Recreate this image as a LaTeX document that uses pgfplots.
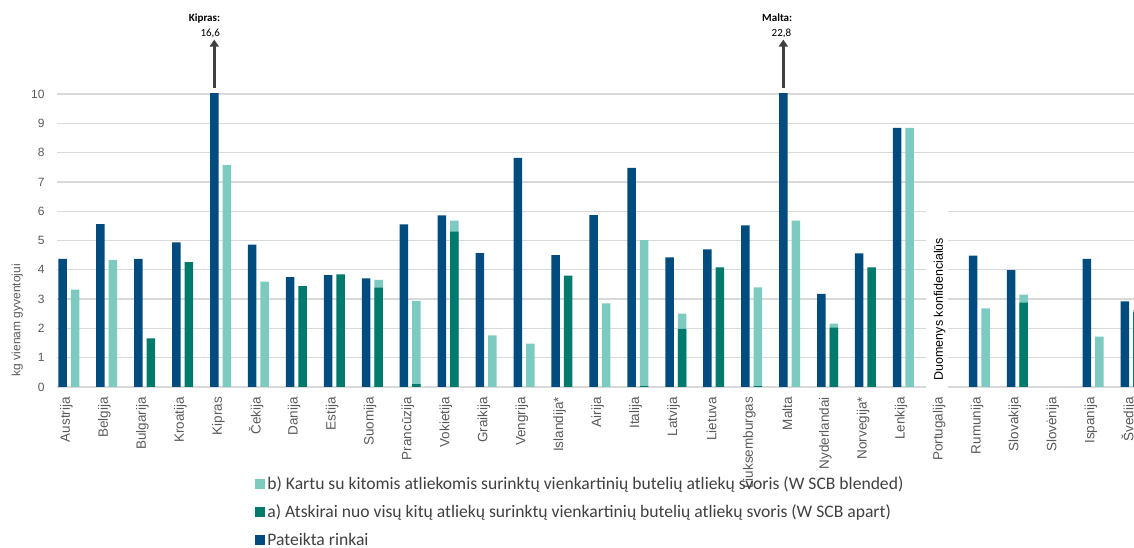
\documentclass[border=0pt]{standalone}
\usepackage{fontspec}
\setmainfont{Liberation Sans}
\newfontfamily\carlito{Carlito}
\usepackage{pgfplots}
\usepackage{pgfplotstable}
\pgfplotsset{compat=1.18}
\usetikzlibrary{arrows.meta}
\definecolor{cDark}{HTML}{004C7F}
\definecolor{cGreen}{HTML}{007A6C}
\definecolor{cLight}{HTML}{7DCBC0}
\definecolor{cGrid}{HTML}{D9D9D9}
\definecolor{cTick}{HTML}{595959}
\definecolor{cLeg}{HTML}{404040}

% x: 0 Austrija ... 28 Svedija
\pgfplotstableread{
x y
0 4.37
1 5.56
2 4.37
3 4.94
4 16.6
5 4.86
6 3.75
7 3.82
8 3.71
9 5.55
10 5.86
11 4.57
12 7.82
13 4.50
14 5.87
15 7.48
16 4.42
17 4.70
18 5.52
19 22.8
20 3.18
21 4.56
22 8.84
24 4.48
25 3.99
27 4.37
28 2.92
}\dark
\pgfplotstableread{
x y
0 3.32
1 4.34
4 7.57
5 3.60
8 3.66
9 2.94
10 5.68
11 1.76
12 1.48
14 2.85
15 5.01
16 2.50
18 3.40
19 5.68
20 2.16
22 8.84
24 2.68
25 3.15
27 1.72
28 2.62
}\light
\pgfplotstableread{
x y
2 1.66
3 4.26
6 3.44
7 3.84
8 3.39
9 0.10
10 5.30
13 3.80
15 0.03
16 1.98
17 4.08
18 0.03
20 2.03
21 4.08
25 2.88
28 2.55
}\green

\begin{document}
\begin{tikzpicture}
\useasboundingbox (0,0) rectangle (1134pt,548pt);
\begin{axis}[
  at={(57pt,161pt)}, anchor=south west,
  scale only axis, width=1077pt, height=293pt,
  xmin=-0.145, xmax=28.242, ymin=0, ymax=10,
  ytick={0,1,...,10},
  xtick={0,1,...,28},
  xticklabels={Austrija,Belgija,Bulgarija,Kroatija,Kipras,Čekija,Danija,Estija,Suomija,Prancūzija,Vokietija,Graikija,Vengrija,Islandija*,Airija,Italija,Latvija,Lietuva,Liuksemburgas,Malta,Nyderlandai,Norvegija*,Lenkija,Portugalija,Rumunija,Slovakija,Slovėnija,Ispanija,Švedija},
  tick label style={text=cTick},
  xticklabel style={rotate=90, anchor=east, inner sep=0.5pt, xshift=-9.5pt, yshift=-4pt, font=\fontsize{13.5}{16}\selectfont, text=cTick},
  yticklabel style={xshift=-9pt, font=\fontsize{12}{14}\selectfont, text=cTick},
  /pgf/number format/assume math mode=true,
  ymajorgrids, grid style={cGrid, line width=1.3pt},
  axis line style={draw=none},
  major tick length=0pt,
  ylabel={kg vienam gyventojui},
  every axis y label/.style={at={(axis description cs:-0.037,0.228)}, rotate=90, anchor=center, font=\fontsize{12}{14}\selectfont, text=cTick},
  legend cell align=left,
  legend style={at={(axis description cs:0.184,-0.300)}, anchor=north west, draw=none, fill=none,
     font=\carlito\fontsize{17.6}{21}\selectfont, text=cLeg, row sep=9.5pt, inner sep=0pt,
     nodes={inner sep=2pt}},
  clip=true,
]
\addplot[ybar, bar width=8.5pt, bar shift=12.5pt, fill=cLight, draw=none,
  legend image code/.code={\fill[cLight] (-3pt,-5pt) rectangle (7pt,5pt);}] table[x=x,y=y]{\light};
\addlegendentry{b) Kartu su kitomis atliekomis surinktų vienkartinių butelių atliekų svoris (W SCB blended)}
\addplot[ybar, bar width=8.5pt, bar shift=12.5pt, fill=cGreen, draw=none,
  legend image code/.code={\fill[cGreen] (-3pt,-5pt) rectangle (7pt,5pt);}] table[x=x,y=y]{\green};
\addlegendentry{a) Atskirai nuo visų kitų atliekų surinktų vienkartinių butelių atliekų svoris (W SCB apart)}
\addplot[ybar, bar width=8.5pt, bar shift=0pt, fill=cDark, draw=none,
  legend image code/.code={\fill[cDark] (-3pt,-5pt) rectangle (7pt,5pt);}] table[x=x,y=y]{\dark};
\addlegendentry{Pateikta rinkai}
\coordinate (boxA) at (axis cs:22.75,-0.12);
\coordinate (boxB) at (axis cs:23.35,6.5);
\coordinate (conf) at (axis cs:23.10,0.22);
\coordinate (kA) at (axis cs:4,10.215);
\coordinate (kB) at (axis cs:4,11.857);
\coordinate (mA) at (axis cs:19,10.215);
\coordinate (mB) at (axis cs:19,11.857);
\end{axis}
\fill[white] (boxA) rectangle (boxB);
\node[rotate=90, anchor=base west, inner sep=0pt, font=\fontsize{12.5}{14}\selectfont, text=black] at ([xshift=4pt]conf) {Duomenys konfidencialūs};
\draw[black!75, line width=3pt, -{Triangle[width=9pt,length=7pt]}] (kA) -- (kB);
\draw[black!75, line width=3pt, -{Triangle[width=9pt,length=7pt]}] (mA) -- (mB);
\node[anchor=base east, inner sep=0pt, font=\carlito\bfseries\fontsize{11}{13}\selectfont] at ([shift={(6pt,18pt)}]kB) {Kipras:};
\node[anchor=base east, inner sep=0pt, font=\carlito\fontsize{11}{13}\selectfont] at ([shift={(6pt,3pt)}]kB) {16,6};
\node[anchor=base east, inner sep=0pt, font=\carlito\bfseries\fontsize{11}{13}\selectfont] at ([shift={(9pt,18pt)}]mB) {Malta:};
\node[anchor=base east, inner sep=0pt, font=\carlito\fontsize{11}{13}\selectfont] at ([shift={(8pt,3pt)}]mB) {22,8};
\end{tikzpicture}
\end{document}
